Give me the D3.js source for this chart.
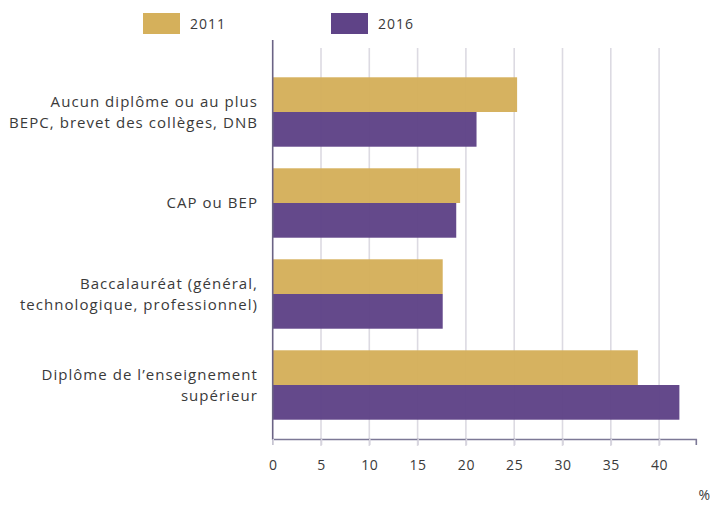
<!DOCTYPE html>
<html><head><meta charset="utf-8">
<script src="https://cdn.jsdelivr.net/npm/d3@7"></script>
<style>body{margin:0;background:#fff}svg{display:block}text{font-family:"Open Sans",sans-serif;fill:#3a3a3a}</style>
</head><body><svg id="c" width="715" height="506"></svg>
<script>
const categories = [
  ["Aucun diplôme ou au plus", "BEPC, brevet des collèges, DNB"],
  ["CAP ou BEP"],
  ["Baccalauréat (général,", "technologique, professionnel)"],
  ["Diplôme de l’enseignement", "supérieur"]
];
const series = ["2011", "2016"];
const values2011 = [25.3, 19.4, 17.6, 37.8];
const values2016 = [21.1, 19.0, 17.6, 42.1];
const xTicks = [0, 5, 10, 15, 20, 25, 30, 35, 40];
const colors = ["#d5b05b", "#5f4387"];

const svg = d3.select("#c");
const keys = categories.map((c, i) => i);
const x = d3.scaleLinear().domain([0, 43.8]).range([272.7, 272.7 + 43.8 * 9.66]);
const y = d3.scaleBand().domain(keys).range([66.5, 430.5]).paddingInner(0.237).paddingOuter(0.1185);
const ys = d3.scaleBand().domain(series).range([0, y.bandwidth()]);

// gridlines
svg.append("g").selectAll("line").data(xTicks.slice(1)).join("line")
  .attr("x1", d => x(d)).attr("x2", d => x(d))
  .attr("y1", 48).attr("y2", 446)
  .attr("stroke", "#dcdae2").attr("stroke-width", 1.6);

// bars
const vals = [values2011, values2016];
const g = svg.append("g");
series.forEach((s, si) => {
  g.selectAll(".b" + si).data(keys).join("rect")
    .attr("x", x(0))
    .attr("y", d => y(d) + ys(s))
    .attr("width", d => x(vals[si][d]) - x(0))
    .attr("height", ys.bandwidth())
    .attr("fill", colors[si]).attr("opacity", 0.97);
});

// axes lines
svg.append("line").attr("x1", x(0)).attr("x2", x(0)).attr("y1", 40).attr("y2", 440)
  .attr("stroke", "#6b6385").attr("stroke-width", 1.6);
const xa = svg.append("g").attr("transform", "translate(0,439)")
  .call(d3.axisBottom(x).tickValues(xTicks).tickSize(6).tickPadding(15).tickFormat(d3.format("d")));
xa.select(".domain").attr("stroke", "#7c7896").attr("stroke-width", 1.6);
xa.selectAll(".tick line").attr("stroke", "#d6d4de").attr("stroke-width", 1.6);
xa.selectAll(".tick text").attr("font-size", 14).attr("letter-spacing", 0.6).attr("fill", "#3a3a3a").attr("font-family", "Open Sans, sans-serif");
svg.append("text").attr("x", 710).attr("y", 500).attr("text-anchor", "end").attr("font-size", 14).text("%");

// category labels
const lab = svg.append("g").selectAll("text").data(keys).join("text")
  .attr("text-anchor", "end").attr("font-size", 15).attr("letter-spacing", 1.05)
  .attr("transform", d => `translate(258,${y(d) + y.bandwidth() / 2})`);
lab.each(function(d) {
  const lines = categories[d];
  const t = d3.select(this);
  lines.forEach((l, i) => {
    t.append("tspan").attr("x", 0)
      .attr("y", (i - (lines.length - 1) / 2) * 20.5)
      .attr("dy", "0.35em").text(l);
  });
});

// legend
const lg = svg.append("g");
series.forEach((s, i) => {
  const lx = [143, 331][i];
  lg.append("rect").attr("x", lx).attr("y", 13).attr("width", 37).attr("height", 21).attr("fill", colors[i]);
  lg.append("text").attr("x", lx + 47).attr("y", 24).attr("dy", "0.35em").attr("font-size", 14).attr("letter-spacing", 1).text(s);
});
</script></body></html>
